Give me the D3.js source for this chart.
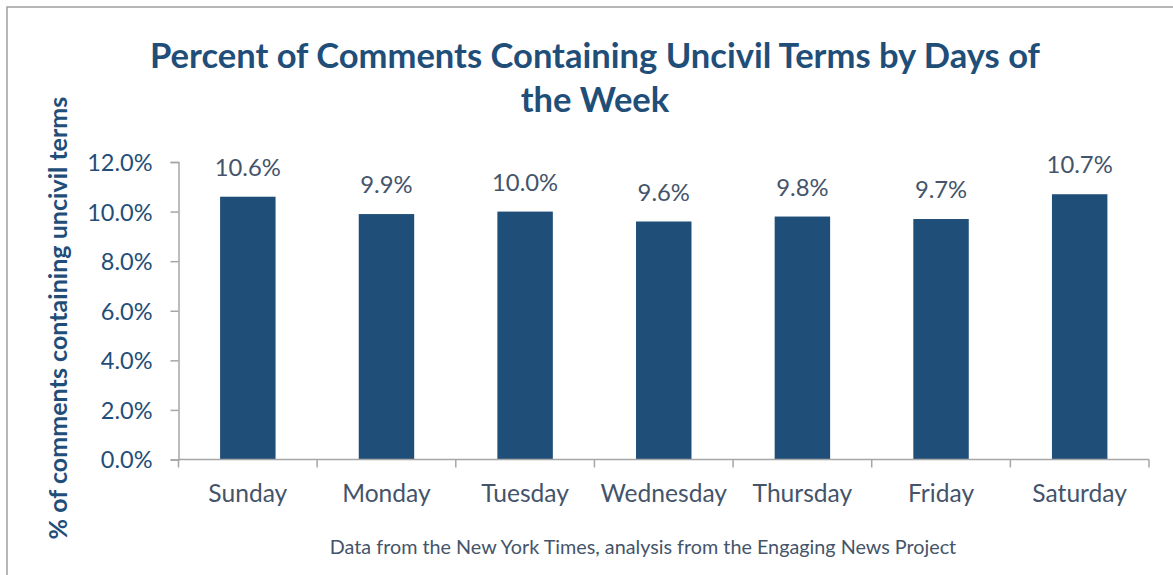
<!DOCTYPE html>
<html>
<head>
<meta charset="utf-8">
<script src="https://cdn.jsdelivr.net/npm/d3@7/dist/d3.min.js"></script>
<style>
  html, body { margin: 0; padding: 0; background: #fff; }
  svg { display: block; }
</style>
</head>
<body>
<svg id="chart" width="1173" height="575"></svg>
<script>
// Share of comments with uncivil terms, by weekday
const days = ["Sunday", "Monday", "Tuesday", "Wednesday", "Thursday", "Friday", "Saturday"];
const uncivilPct = [10.6, 9.9, 10.0, 9.6, 9.8, 9.7, 10.7];
const yTicks = [0, 2, 4, 6, 8, 10, 12];
const titleLines = ["Percent of Comments Containing Uncivil Terms by Days of", "the Week"];
const yTitle = "% of comments containing uncivil terms";
const note = "Data from the New York Times, analysis from the Engaging News Project";

const W = 1173, H = 575;
const plot = { left: 178.5, right: 1149, top: 162, bottom: 459.5 };
const navy = "#1F4E79";
const slate = "#44546A";
const axisGrey = "#A6A6A6";
const fontFamily = "Lato, 'Open Sans', 'Noto Sans', sans-serif";

const svg = d3.select("#chart");

// outer chart frame
svg.append("rect")
  .attr("x", 7).attr("y", 7)
  .attr("width", W + 20).attr("height", H + 20)
  .attr("fill", "none")
  .attr("stroke", "#A0A0A0")
  .attr("stroke-width", 1.5);

const x = d3.scaleBand()
  .domain(days)
  .range([plot.left, plot.right])
  .paddingInner(0.6)
  .paddingOuter(0.3);

const y = d3.scaleLinear()
  .domain([0, 12])
  .range([plot.bottom, plot.top]);

// shrink/grow a text node so it spans a given width
function fitWidth(sel, target) {
  const node = sel.node();
  const fs = parseFloat(sel.attr("font-size"));
  const w = node.getComputedTextLength();
  if (w > 0) sel.attr("font-size", (fs * target / w).toFixed(2));
}

// title
const title = svg.append("text")
  .attr("text-anchor", "middle")
  .attr("font-family", fontFamily)
  .attr("font-weight", 700)
  .attr("fill", navy);
const t1 = title.append("tspan").attr("x", 595).attr("y", 68).attr("font-size", 32).text(titleLines[0]);
fitWidth(t1, 890);
title.append("tspan").attr("x", 595).attr("y", 112).attr("font-size", t1.attr("font-size")).text(titleLines[1]);

// bars
svg.append("g")
  .selectAll("rect")
  .data(days)
  .join("rect")
  .attr("x", d => x(d))
  .attr("width", x.bandwidth())
  .attr("y", (d, i) => y(uncivilPct[i]))
  .attr("height", (d, i) => y(0) - y(uncivilPct[i]))
  .attr("fill", navy);

// value labels
svg.append("g")
  .selectAll("text")
  .data(days)
  .join("text")
  .attr("x", d => x(d) + x.bandwidth() / 2)
  .attr("y", (d, i) => y(uncivilPct[i]) - 21)
  .attr("text-anchor", "middle")
  .attr("font-family", fontFamily)
  .attr("font-size", 23.8)
  .attr("fill", slate)
  .text((d, i) => uncivilPct[i].toFixed(1) + "%");

// y axis
const yAxis = svg.append("g")
  .attr("transform", `translate(${plot.left},0)`)
  .call(d3.axisLeft(y).tickValues(yTicks).tickSize(8).tickPadding(18)
    .tickFormat(d => d.toFixed(1) + "%"));
yAxis.select(".domain").attr("stroke", axisGrey).attr("stroke-width", 1.5);
yAxis.selectAll(".tick line").attr("stroke", axisGrey).attr("stroke-width", 1.5);
yAxis.selectAll(".tick text")
  .attr("font-family", fontFamily)
  .attr("font-size", 23.5)
  .attr("fill", navy)
  .attr("dy", "0.36em");

// x axis: ticks sit on category boundaries
const xAxisG = svg.append("g").attr("transform", `translate(0,${plot.bottom})`);
xAxisG.append("line")
  .attr("x1", plot.left).attr("x2", plot.right)
  .attr("stroke", axisGrey).attr("stroke-width", 1.5);
const step = x.step();
const bounds = d3.range(days.length + 1).map(i => x(days[0]) - x.bandwidth() * 0.75 + i * step);
xAxisG.selectAll("line.bound")
  .data(bounds)
  .join("line")
  .attr("class", "bound")
  .attr("x1", d => d).attr("x2", d => d)
  .attr("y1", 0).attr("y2", 8)
  .attr("stroke", axisGrey).attr("stroke-width", 1.5);
xAxisG.selectAll("text")
  .data(days)
  .join("text")
  .attr("x", d => x(d) + x.bandwidth() / 2)
  .attr("y", 42)
  .attr("text-anchor", "middle")
  .attr("font-family", fontFamily)
  .attr("font-size", 24.6)
  .attr("fill", slate)
  .text(d => d);

// y axis title
svg.append("text")
  .attr("transform", "translate(67,318) rotate(-90)")
  .attr("text-anchor", "middle")
  .attr("font-family", fontFamily)
  .attr("font-weight", 700)
  .attr("font-size", 20)
  .attr("fill", navy)
  .text(yTitle)
  .call(s => fitWidth(s, 443));

// source note
svg.append("text")
  .attr("x", 643)
  .attr("y", 554)
  .attr("text-anchor", "middle")
  .attr("font-family", fontFamily)
  .attr("font-size", 16)
  .attr("fill", slate)
  .text(note)
  .call(s => fitWidth(s, 627));
</script>
</body>
</html>
